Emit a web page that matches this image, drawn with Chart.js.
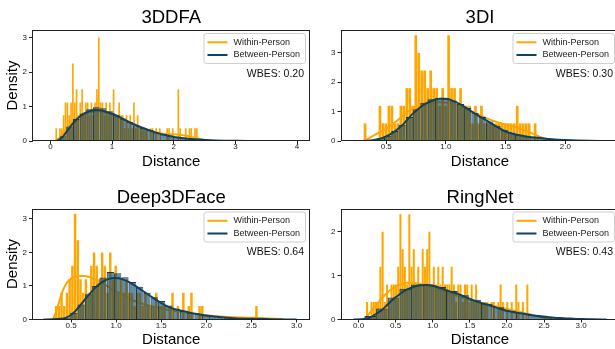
<!DOCTYPE html>
<html><head><meta charset="utf-8">
<script src="https://cdn.jsdelivr.net/npm/chart.js@4.4.1/dist/chart.umd.min.js"></script>
<style>
html,body{margin:0;padding:0;background:#fff;overflow:hidden;width:615px;height:349px;position:relative;}
canvas{position:absolute;}
#c1{left:0;top:0;width:312px;height:175px}
#c2{left:305px;top:0;width:316px;height:175px}
#c3{left:0;top:175px;width:312px;height:174px}
#c4{left:305px;top:175px;width:316px;height:174px}
</style></head><body>
<canvas id="c1" width="312" height="175"></canvas>
<canvas id="c2" width="316" height="175"></canvas>
<canvas id="c3" width="312" height="174"></canvas>
<canvas id="c4" width="316" height="174"></canvas>
<script>
// ---------------- DATA ----------------
const legendLabels = ['Within-Person', 'Between-Person'];

// 3DDFA
const ddfaWithinStart = 0.08, ddfaWithinWidth = 0.03;
const ddfaWithin = [0.37,0,0.37,0.37,0.75,1.12,1.12,0.75,1.12,2.25,1.12,1.5,0.75,1.12,1.5,0.75,1.12,1.12,0.75,1.12,
  0.75,1.12,1.5,3.0,1.12,1.12,0.75,1.12,0.75,1.12,0.75,1.5,0.75,0.75,1.12,0.75,0.75,0.37,0.75,0.37,
  0.75,0.37,1.12,0.37,0.75,0.37,0.37,0.37,0.37,0.37,0,0.37,0.37,0,0.37,0,0.37,0,0,0,
  0.37,0.37,0,0.37,0,0,1.5,0.37,0,0,0.37,0,0.37,0.37,0,0.37,0.37,0];
const ddfaBetweenStart = 0.15, ddfaBetweenWidth = 0.108;
const ddfaBetween = [0.14,0.42,0.64,0.8,0.92,0.98,0.95,0.86,0.76,0.65,0.55,0.46,0.38,0.31,0.25,0.19,0.15,0.12,0.09,0.07,0.05,0.04,0.03,0.02,0.012,0.008];
const ddfaKdeWithinX = [0.08,0.15,0.2,0.3,0.4,0.5,0.6,0.7,0.8,0.9,1.0,1.1,1.2,1.3,1.4,1.5,1.6,1.7,1.8,1.9,2.0,2.1,2.2,2.3,2.4,2.5,2.6];
const ddfaKdeWithinY = [0,0.1,0.22,0.45,0.63,0.76,0.82,0.85,0.84,0.81,0.76,0.69,0.61,0.53,0.45,0.38,0.31,0.26,0.22,0.2,0.19,0.18,0.15,0.11,0.07,0.03,0.01];
const ddfaKdeBetweenX = [-0.1,0.05,0.12,0.2,0.3,0.4,0.5,0.6,0.7,0.8,0.9,1.0,1.1,1.2,1.3,1.4,1.5,1.6,1.7,1.8,1.9,2.0,2.2,2.4,2.6,2.8,3.0,3.3,3.6,4.0];
const ddfaKdeBetweenY = [0,0,0.02,0.12,0.36,0.58,0.74,0.84,0.89,0.89,0.85,0.79,0.71,0.62,0.53,0.45,0.38,0.31,0.25,0.2,0.16,0.12,0.07,0.04,0.02,0.01,0.005,0.002,0,0];
const ddfaTicksX = [0,1,2,3,4];
const ddfaTicksY = [0,1,2,3];

// 3DI
const tdiWithinStart = 0.31, tdiWithinWidth = 0.025;
const tdiWithin = [0.6,0,0,0,0,1.2,0.6,0.6,1.2,1.2,0.6,0.6,1.2,1.2,1.8,1.8,1.2,3.6,3.0,2.4,
  2.4,1.8,2.4,1.8,1.8,1.2,1.8,1.2,3.6,1.8,1.8,1.2,1.8,1.2,1.2,1.2,0.6,1.2,0.6,1.2,
  0.6,0.6,0.6,0.6,0.6,0.6,0.6,0.6,0.6,0.6,0.6,1.2,0.6,0.6,0.6,0.6,0,0.6];
const tdiBetweenStart = 0.42, tdiBetweenWidth = 0.061;
const tdiBetween = [0.09,0.18,0.34,0.55,0.82,1.08,1.3,1.42,1.47,1.44,1.38,1.26,1.12,0.96,0.82,0.66,0.52,0.38,0.28,0.21,0.16,0.12,0.09,0.06,0.045,0.03,0.02,0.01];
const tdiKdeWithinX = [0.31,0.35,0.4,0.45,0.5,0.55,0.6,0.65,0.7,0.75,0.8,0.85,0.9,0.95,1.0,1.05,1.1,1.15,1.2,1.3,1.4,1.5,1.6,1.7,1.8,1.9];
const tdiKdeWithinY = [0,0.08,0.2,0.3,0.42,0.56,0.72,0.9,1.06,1.18,1.26,1.3,1.32,1.32,1.3,1.26,1.2,1.12,1.03,0.85,0.68,0.56,0.45,0.3,0.12,0.02];
const tdiKdeBetweenX = [0.227,0.35,0.42,0.49,0.55,0.6,0.65,0.71,0.77,0.83,0.89,0.95,1.0,1.08,1.15,1.22,1.29,1.36,1.43,1.49,1.56,1.63,1.7,1.77,1.84,1.91,2.0,2.1,2.2,2.344];
const tdiKdeBetweenY = [0,0.01,0.05,0.14,0.27,0.42,0.6,0.88,1.1,1.27,1.38,1.44,1.44,1.33,1.18,0.99,0.82,0.65,0.48,0.34,0.25,0.19,0.14,0.11,0.08,0.05,0.03,0.015,0.005,0];
const tdiTicksX = [0.5,1.0,1.5,2.0];
const tdiTicksY = [0,1,2,3];

// Deep3DFace
const deepWithinStart = 0.32, deepWithinWidth = 0.03;
const deepWithin = [0.4,0.4,0.8,0.4,0.8,1.2,1.6,3.15,2.36,1.2,0.8,1.2,0.8,1.6,2.0,1.6,1.2,2.0,1.6,0.8,
  2.0,1.2,1.6,0.8,1.2,0.8,1.2,0.8,0.8,0.4,0.8,0.8,0.4,0.8,0.4,0.4,0.4,0.8,0.4,0.4,
  0.4,0,0.4,0.8,0,0.4,0,0.8,0,0.4,0.8,0,0,0.4,0.4,0,0,0,0,0,
  0,0,0,0,0,0,0,0,0,0,0,0,0,0,0.4];
const deepBetweenStart = 0.41, deepBetweenWidth = 0.081;
const deepBetween = [0.05,0.2,0.45,0.75,1.0,1.25,1.42,1.38,1.26,1.12,0.98,0.8,0.66,0.55,0.42,0.32,0.25,0.2,0.16,0.12,0.1,0.08,0.06,0.04,0.03,0.02];
const deepKdeWithinX = [0.3,0.33,0.36,0.4,0.45,0.5,0.55,0.6,0.65,0.7,0.75,0.82,0.9,1.0,1.1,1.2,1.3,1.4,1.5,1.6,1.75,1.9,2.05,2.2,2.4,2.55,2.7,2.85];
const deepKdeWithinY = [0,0.2,0.45,0.8,1.08,1.22,1.28,1.3,1.3,1.27,1.22,1.14,1.0,0.84,0.7,0.56,0.46,0.39,0.33,0.28,0.22,0.16,0.11,0.08,0.06,0.05,0.03,0.01];
const deepKdeBetweenX = [0.196,0.3,0.38,0.44,0.49,0.53,0.58,0.64,0.7,0.75,0.8,0.86,0.92,0.97,1.03,1.08,1.14,1.19,1.28,1.38,1.47,1.56,1.65,1.75,1.84,1.93,2.02,2.11,2.3,2.5,2.7,3.0];
const deepKdeBetweenY = [0,0.005,0.02,0.05,0.12,0.2,0.35,0.55,0.74,0.9,1.03,1.14,1.21,1.24,1.23,1.19,1.12,1.04,0.88,0.7,0.54,0.4,0.31,0.25,0.19,0.15,0.11,0.08,0.04,0.02,0.01,0];
const deepTicksX = [0.5,1.0,1.5,2.0,2.5,3.0];
const deepTicksY = [0,1,2,3];

// RingNet
const ringWithinStart = 0.1, ringWithinWidth = 0.03;
const ringWithin = [0.4,0,0.4,0.4,0.4,0.4,1.2,2.0,0.4,0.8,0.4,0.8,0.8,0.8,1.2,2.4,1.6,1.2,0.8,2.4,
  1.2,1.6,0.8,1.2,0.8,1.6,1.2,1.6,2.0,0.8,1.2,0.8,1.2,0.8,1.2,0.8,0.8,0.8,1.2,0.8,
  0.4,0.8,0.8,0.4,0.8,0.8,0.4,0.8,0.4,0.8,0.4,0.4,0.4,0.4,0.4,0,0.4,0.4,0,0.4,
  0.8,0.4,0,0.4,0,0.4,0,0.8,0.4,0,0.4,0,0.8];
const ringBetweenStart = 0.08, ringBetweenWidth = 0.157;
const ringBetween = [0.08,0.25,0.5,0.7,0.8,0.8,0.74,0.65,0.55,0.45,0.36,0.28,0.2,0.14,0.1,0.06,0.04,0.025,0.015,0.01];
const ringKdeWithinX = [0.07,0.12,0.18,0.25,0.31,0.38,0.45,0.52,0.58,0.65,0.72,0.8,0.9,1.0,1.1,1.2,1.35,1.5,1.65,1.8,1.95,2.1,2.25,2.4,2.5,2.6];
const ringKdeWithinY = [0,0.08,0.21,0.35,0.48,0.6,0.7,0.77,0.81,0.84,0.84,0.82,0.78,0.73,0.67,0.61,0.53,0.45,0.38,0.32,0.26,0.2,0.14,0.08,0.04,0.01];
const ringKdeBetweenX = [-0.067,0.05,0.1,0.16,0.23,0.31,0.38,0.45,0.52,0.58,0.65,0.72,0.79,0.85,0.92,1.0,1.08,1.16,1.25,1.34,1.43,1.52,1.63,1.75,1.86,1.97,2.08,2.19,2.3,2.42,2.53,2.64,2.76,2.87,3.0,3.15,3.34];
const ringKdeBetweenY = [0,0.003,0.015,0.05,0.12,0.21,0.32,0.44,0.53,0.61,0.68,0.73,0.77,0.78,0.785,0.77,0.73,0.68,0.63,0.58,0.52,0.46,0.39,0.33,0.27,0.21,0.17,0.14,0.11,0.08,0.06,0.04,0.03,0.02,0.01,0.005,0];
const ringTicksX = [0.0,0.5,1.0,1.5,2.0,2.5,3.0];
const ringTicksY = [0,1,2];

// ---------------- STYLE / BUILD ----------------
const FONT = '"Liberation Sans", Arial, Helvetica, sans-serif';
Chart.defaults.font.family = FONT;
const ORANGE = 'rgb(255,165,0)';
const BLUE_FILL = 'rgba(0,63,105,0.6)';
const BLUE_EDGE = 'rgba(6,40,64,0.9)';
const BLUE_LINE = '#0d4262';
const AXIS = '#222';

function bins(h, start, w) { return h.map((y, i) => ({x: start + w * (i + 0.5), y})); }
function pts(xs, ys) { return xs.map((x, i) => ({x, y: ys[i]})); }
function thick(w, frac) {
  return (ctx) => {
    const s = ctx.chart.scales.x;
    const v = Math.abs(s.getPixelForValue(w) - s.getPixelForValue(0)) * frac;
    return isFinite(v) && v > 0 ? v : 1;
  };
}

const panelDeco = {
  id: 'panelDeco',
  afterDatasetsDraw(chart, args, opts) {
    const {ctx, chartArea: a} = chart;
    ctx.save();
    ctx.strokeStyle = AXIS; ctx.lineWidth = 1;
    const L = Math.floor(a.left) + 0.5, R = Math.round(a.right) - 0.5;
    const T = Math.round(a.top) + 0.5, B = Math.round(a.bottom) - 0.5;
    ctx.strokeRect(L, T, R - L, B - T);
    ctx.font = '9px ' + FONT;
    const tw = Math.max(...legendLabels.map(t => ctx.measureText(t).width));
    const bw = 4 + 20 + 6 + tw + 5, bh = 30;
    const br = a.right - 5, bl = br - bw, bt = a.top + 3;
    ctx.beginPath();
    if (ctx.roundRect) ctx.roundRect(bl + 0.5, bt + 0.5, bw, bh, 2.5); else ctx.rect(bl + 0.5, bt + 0.5, bw, bh);
    ctx.fillStyle = 'rgba(255,255,255,0.85)'; ctx.fill();
    ctx.strokeStyle = '#cfcfcf'; ctx.lineWidth = 1; ctx.stroke();
    const rows = [bt + 9.3, bt + 22];
    const cols = [ORANGE, BLUE_LINE];
    ctx.textBaseline = 'middle'; ctx.textAlign = 'left';
    rows.forEach((y, i) => {
      ctx.strokeStyle = cols[i]; ctx.lineWidth = 2;
      ctx.beginPath(); ctx.moveTo(bl + 4, y); ctx.lineTo(bl + 24, y); ctx.stroke();
      ctx.fillStyle = '#222';
      ctx.fillText(legendLabels[i], bl + 30, y);
    });
    ctx.font = '10.5px ' + FONT;
    ctx.textAlign = 'right'; ctx.fillStyle = '#111';
    ctx.fillText('WBES: ' + opts.wbes, a.right - 6, a.top + 44);
    ctx.restore();
  }
};

function makeChart(id, p) {
  const datasets = [
    {type: 'line', data: pts(p.kbx, p.kby), borderColor: BLUE_LINE, borderWidth: 2, pointRadius: 0,
     cubicInterpolationMode: 'monotone', fill: false, order: 0},
    {type: 'bar', data: bins(p.between, p.bStart, p.bWidth), backgroundColor: BLUE_FILL, borderColor: BLUE_EDGE,
     borderWidth: {top: 1, left: 1, right: 0, bottom: 0}, borderSkipped: false, grouped: false,
     barThickness: thick(p.bWidth, 1), inflateAmount: 0, order: 1},
    {type: 'line', data: pts(p.kwx, p.kwy), borderColor: ORANGE, borderWidth: 2, pointRadius: 0,
     cubicInterpolationMode: 'monotone', fill: false, order: 2},
    {type: 'bar', data: bins(p.within, p.wStart, p.wWidth), backgroundColor: ORANGE, borderWidth: 0,
     grouped: false, barThickness: thick(p.wWidth, 0.9), inflateAmount: 0, order: 3}
  ];
  return new Chart(document.getElementById(id), {
    type: 'bar',
    data: {datasets},
    plugins: [panelDeco],
    options: {
      responsive: false, maintainAspectRatio: false, animation: false, events: [],
      layout: {padding: {left: 0, right: 2, top: 0, bottom: 0}},
      plugins: {
        legend: {display: false}, tooltip: {enabled: false},
        title: {display: true, text: p.title, fullSize: false, color: '#000',
                font: {size: 18.5, weight: 'normal', family: FONT}, padding: p.titlePad},
        panelDeco: {wbes: p.wbes}
      },
      scales: {
        x: {
          type: 'linear', min: p.xMin, max: p.xMax, offset: false,
          grid: {display: true, drawOnChartArea: false, drawTicks: true, tickLength: 3, color: AXIS, offset: false},
          border: {display: false},
          ticks: {font: {size: 8, lineHeight: 1}, color: '#222', padding: -1.2, maxRotation: 0, autoSkip: false,
                  callback: (v) => Number(v).toFixed(p.dec)},
          afterBuildTicks: (s) => { s.ticks = p.xTicks.map(v => ({value: v})); },
          afterFit: (s) => { s.height = p.xAxisH; },
          title: {display: true, text: 'Distance', color: '#000', font: {size: 15},
                  padding: {top: 0, bottom: p.xTitleBottom}}
        },
        y: {
          type: 'linear', min: 0, max: p.yMax,
          grid: {display: true, drawOnChartArea: false, drawTicks: true, tickLength: 3.5, color: AXIS},
          border: {display: false},
          ticks: {font: {size: 8}, color: '#222', padding: 2, autoSkip: false, callback: (v) => String(v)},
          afterBuildTicks: (s) => { s.ticks = p.yTicks.map(v => ({value: v})); },
          afterFit: (s) => { s.width = p.yAxisW; },
          title: {display: p.yLabel, text: 'Density', color: '#000', font: {size: 15},
                  padding: {top: 4.3, bottom: 0}}
        }
      }
    }
  });
}

const topRow = {titlePad: {top: 7.2, bottom: 0.6}, xAxisH: 34, xTitleBottom: 4.0};
const botRow = {titlePad: {top: 11.4, bottom: -0.1}, xAxisH: 29.5, xTitleBottom: 0.6};

makeChart('c1', Object.assign({
  title: '3DDFA', wbes: '0.20', yLabel: true, yAxisW: 32.5,
  within: ddfaWithin, wStart: ddfaWithinStart, wWidth: ddfaWithinWidth,
  between: ddfaBetween, bStart: ddfaBetweenStart, bWidth: ddfaBetweenWidth,
  kwx: ddfaKdeWithinX, kwy: ddfaKdeWithinY, kbx: ddfaKdeBetweenX, kby: ddfaKdeBetweenY,
  xMin: -0.29, xMax: 4.21, yMax: 3.22, xTicks: ddfaTicksX, yTicks: ddfaTicksY, dec: 0
}, topRow));

makeChart('c2', Object.assign({
  title: '3DI', wbes: '0.30', yLabel: false, yAxisW: 36,
  within: tdiWithin, wStart: tdiWithinStart, wWidth: tdiWithinWidth,
  between: tdiBetween, bStart: tdiBetweenStart, bWidth: tdiBetweenWidth,
  kwx: tdiKdeWithinX, kwy: tdiKdeWithinY, kbx: tdiKdeBetweenX, kby: tdiKdeBetweenY,
  xMin: 0.121, xMax: 2.45, yMax: 3.78, xTicks: tdiTicksX, yTicks: tdiTicksY, dec: 1
}, topRow));

makeChart('c3', Object.assign({
  title: 'Deep3DFace', wbes: '0.64', yLabel: true, yAxisW: 32.5,
  within: deepWithin, wStart: deepWithinStart, wWidth: deepWithinWidth,
  between: deepBetween, bStart: deepBetweenStart, bWidth: deepBetweenWidth,
  kwx: deepKdeWithinX, kwy: deepKdeWithinY, kbx: deepKdeBetweenX, kby: deepKdeBetweenY,
  xMin: 0.073, xMax: 3.149, yMax: 3.31, xTicks: deepTicksX, yTicks: deepTicksY, dec: 1
}, botRow));

makeChart('c4', Object.assign({
  title: 'RingNet', wbes: '0.43', yLabel: false, yAxisW: 36,
  within: ringWithin, wStart: ringWithinStart, wWidth: ringWithinWidth,
  between: ringBetween, bStart: ringBetweenStart, bWidth: ringBetweenWidth,
  kwx: ringKdeWithinX, kwy: ringKdeWithinY, kbx: ringKdeBetweenX, kby: ringKdeBetweenY,
  xMin: -0.236, xMax: 3.51, yMax: 2.53, xTicks: ringTicksX, yTicks: ringTicksY, dec: 1
}, botRow));
</script>
</body></html>
